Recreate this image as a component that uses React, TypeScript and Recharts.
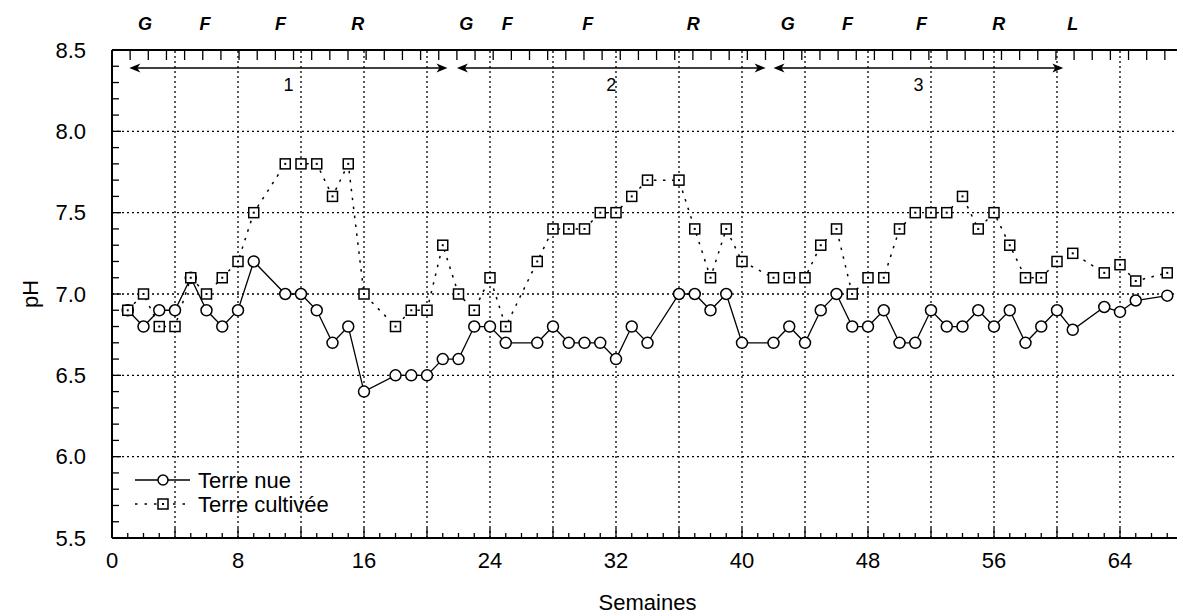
import React from 'react';
import {
  LineChart,
  Line,
  XAxis,
  YAxis,
  ReferenceLine,
  ReferenceDot,
  Legend,
} from 'recharts';

// weeks where a measure exists (some weeks were skipped)
const weeks = [1, 2, 3, 4, 5, 6, 7, 8, 9, 11, 12, 13, 14, 15, 16, 18, 19, 20, 21, 22, 23, 24, 25, 27, 28, 29, 30, 31, 32, 33, 34, 36, 37, 38, 39, 40, 42, 43, 44, 45, 46, 47, 48, 49, 50, 51, 52, 53, 54, 55, 56, 57, 58, 59, 60, 61, 63, 64, 65, 67];

const terreNue = [6.9, 6.8, 6.9, 6.9, 7.1, 6.9, 6.8, 6.9, 7.2, 7.0, 7.0, 6.9, 6.7, 6.8, 6.4, 6.5, 6.5, 6.5, 6.6, 6.6, 6.8, 6.8, 6.7, 6.7, 6.8, 6.7, 6.7, 6.7, 6.6, 6.8, 6.7, 7.0, 7.0, 6.9, 7.0, 6.7, 6.7, 6.8, 6.7, 6.9, 7.0, 6.8, 6.8, 6.9, 6.7, 6.7, 6.9, 6.8, 6.8, 6.9, 6.8, 6.9, 6.7, 6.8, 6.9, 6.78, 6.92, 6.89, 6.96, 6.99];

const terreCultivee = [6.9, 7.0, 6.8, 6.8, 7.1, 7.0, 7.1, 7.2, 7.5, 7.8, 7.8, 7.8, 7.6, 7.8, 7.0, 6.8, 6.9, 6.9, 7.3, 7.0, 6.9, 7.1, 6.8, 7.2, 7.4, 7.4, 7.4, 7.5, 7.5, 7.6, 7.7, 7.7, 7.4, 7.1, 7.4, 7.2, 7.1, 7.1, 7.1, 7.3, 7.4, 7.0, 7.1, 7.1, 7.4, 7.5, 7.5, 7.5, 7.6, 7.4, 7.5, 7.3, 7.1, 7.1, 7.2, 7.25, 7.13, 7.18, 7.08, 7.13];

// crop stages written above the plot
const stageLetters = ['G', 'F', 'F', 'R', 'G', 'F', 'F', 'R', 'G', 'F', 'F', 'R', 'L'];
const stageWeeks = [2.1, 5.9, 10.7, 15.6, 22.5, 25.1, 30.2, 36.9, 42.9, 46.7, 51.4, 56.3, 61.0];

// cycles (double arrows)
const cycleLabels = ['1', '2', '3'];
const cycleStart = [1.1, 21.9, 42.0];
const cycleEnd = [21.3, 41.5, 60.4];
const cycleLabelWeeks = [11.2, 31.7, 51.2];

const xTicks = Array.from({ length: 69 }, (_, i) => i);
const yTicks = Array.from({ length: 31 }, (_, i) => Math.round((5.5 + i * 0.1) * 10) / 10);
const gridX = [4, 8, 12, 16, 20, 24, 28, 32, 36, 40, 44, 48, 52, 56, 60, 64];
const gridY = [6.0, 6.5, 7.0, 7.5, 8.0];

const data = weeks.map((w, i) => ({ week: w, nue: terreNue[i], cult: terreCultivee[i] }));

const FONT = '"Liberation Sans", Arial, sans-serif';

const BottomTick = (props: any) => {
  const { x, y, payload } = props;
  const v = payload.value;
  const len = v % 4 === 0 ? 10 : 5;
  return (
    <g>
      <line x1={x} y1={y} x2={x} y2={y - len} stroke="#000" strokeWidth={1.3} />
      {v % 8 === 0 && (
        <text x={x} y={y + 22} textAnchor="middle" dominantBaseline="central" fontSize={22} fontFamily={FONT} fill="#000">
          {v}
        </text>
      )}
    </g>
  );
};

const TopTick = (props: any) => {
  const { x, y } = props;
  return <line x1={x} y1={y} x2={x} y2={y + 10} stroke="#000" strokeWidth={1.3} />;
};

const LeftTick = (props: any) => {
  const { x, y, payload } = props;
  const v = payload.value;
  const major = Math.abs(v * 2 - Math.round(v * 2)) < 1e-6;
  return (
    <g>
      <line x1={x} y1={y} x2={x + (major ? 9 : 7)} y2={y} stroke="#000" strokeWidth={1.3} />
      {major && (
        <text x={x - 26} y={y} textAnchor="end" dominantBaseline="central" fontSize={22} fontFamily={FONT} fill="#000">
          {v.toFixed(1)}
        </text>
      )}
    </g>
  );
};

const CircleDot = (props: any) => {
  const { cx, cy, index } = props;
  return <circle key={`n${index}`} cx={cx} cy={cy} r={5.5} fill="#fff" stroke="#000" strokeWidth={1.5} />;
};

const SquareDot = (props: any) => {
  const { cx, cy, index } = props;
  return (
    <g key={`c${index}`}>
      <rect x={cx - 5} y={cy - 5} width={10} height={10} fill="#fff" stroke="#000" strokeWidth={1.5} />
      <rect x={cx - 1} y={cy - 1} width={2} height={2} fill="#000" />
    </g>
  );
};

const DoubleArrow = (props: any) => {
  const { x1, y1, x2, y2 } = props;
  const h = 4.5;
  const L = 11;
  return (
    <g>
      <line x1={x1 + 3} y1={y1} x2={x2 - 3} y2={y2} stroke="#000" strokeWidth={1.5} />
      <path d={`M${x1},${y1} L${x1 + L},${y1 - h} L${x1 + L - 3},${y1} L${x1 + L},${y1 + h} Z`} fill="#000" />
      <path d={`M${x2},${y2} L${x2 - L},${y2 - h} L${x2 - L + 3},${y2} L${x2 - L},${y2 + h} Z`} fill="#000" />
    </g>
  );
};

const LegendBox = () => (
  <svg width={260} height={50} style={{ display: 'block' }}>
    <line x1={0} y1={12} x2={55} y2={12} stroke="#000" strokeWidth={1.3} />
    <circle cx={28} cy={12} r={5} fill="#fff" stroke="#000" strokeWidth={1.5} />
    <text x={63} y={12} dominantBaseline="central" fontSize={22} fontFamily={FONT} fill="#000">
      Terre nue
    </text>
    <line x1={0} y1={36} x2={55} y2={36} stroke="#000" strokeWidth={1.5} strokeDasharray="2.5 7" />
    <rect x={23} y={31} width={10} height={10} fill="#fff" stroke="#000" strokeWidth={1.5} />
    <rect x={27} y={35} width={2} height={2} fill="#000" />
    <text x={63} y={36} dominantBaseline="central" fontSize={22} fontFamily={FONT} fill="#000">
      Terre cultivée
    </text>
  </svg>
);

export default function App() {
  return (
    <div
      style={{
        position: 'fixed',
        left: 0,
        top: 0,
        width: 1177,
        height: 615,
        overflow: 'hidden',
        background: '#fff',
        fontFamily: FONT,
      }}
    >
      <LineChart width={1200} height={615} data={data} margin={{ top: 0, right: 17, bottom: 0, left: 0 }}>
        <XAxis
          xAxisId="top"
          orientation="top"
          type="number"
          domain={[0, 68]}
          ticks={xTicks}
          interval={0}
          height={50}
          tickSize={0}
          tickMargin={0}
          tick={<TopTick />}
          axisLine={{ stroke: '#000', strokeWidth: 2 }}
          allowDataOverflow
        />
        <XAxis
          dataKey="week"
          type="number"
          domain={[0, 68]}
          ticks={xTicks}
          interval={0}
          height={77}
          tickSize={0}
          tickMargin={0}
          tick={<BottomTick />}
          axisLine={{ stroke: '#000', strokeWidth: 2 }}
          allowDataOverflow
          label={{
            content: (p: any) => (
              <text
                x={p.viewBox.x + p.viewBox.width / 2}
                y={p.viewBox.y + 64}
                textAnchor="middle"
                dominantBaseline="central"
                fontSize={22}
                fontFamily={FONT}
                fill="#000"
              >
                Semaines
              </text>
            ),
          }}
        />
        <YAxis
          type="number"
          domain={[5.5, 8.5]}
          ticks={yTicks}
          interval={0}
          width={112}
          tickSize={0}
          tickMargin={0}
          tick={<LeftTick />}
          axisLine={{ stroke: '#000', strokeWidth: 2 }}
          allowDataOverflow
          label={{
            content: (p: any) => {
              const cx = p.viewBox.x + 30;
              const cy = p.viewBox.y + p.viewBox.height / 2;
              return (
                <text
                  x={cx}
                  y={cy}
                  transform={`rotate(-90 ${cx} ${cy})`}
                  textAnchor="middle"
                  dominantBaseline="central"
                  fontSize={22}
                  fontFamily={FONT}
                  fill="#000"
                >
                  pH
                </text>
              );
            },
          }}
        />

        {gridX.map((g) => (
          <ReferenceLine key={`gx${g}`} x={g} stroke="#000" strokeWidth={1.3} strokeDasharray="2 3" />
        ))}
        {gridY.map((g) => (
          <ReferenceLine key={`gy${g}`} y={g} stroke="#000" strokeWidth={1.3} strokeDasharray="2 3" />
        ))}

        {cycleLabels.map((c, i) => (
          <ReferenceLine
            key={`arr${c}`}
            segment={[
              { x: cycleStart[i], y: 8.39 },
              { x: cycleEnd[i], y: 8.39 },
            ]}
            ifOverflow="visible"
            shape={<DoubleArrow />}
          />
        ))}
        {cycleLabels.map((c, i) => (
          <ReferenceDot
            key={`cl${c}`}
            x={cycleLabelWeeks[i]}
            y={8.285}
            r={0}
            ifOverflow="visible"
            shape={(p: any) => (
              <text x={p.cx} y={p.cy} textAnchor="middle" dominantBaseline="central" fontSize={18} fontFamily={FONT} fill="#000">
                {c}
              </text>
            )}
          />
        ))}
        {stageLetters.map((s, i) => (
          <ReferenceDot
            key={`st${i}`}
            x={stageWeeks[i]}
            y={8.66}
            r={0}
            ifOverflow="visible"
            shape={(p: any) => (
              <text
                x={p.cx}
                y={p.cy}
                textAnchor="middle"
                dominantBaseline="central"
                fontSize={18}
                fontWeight="bold"
                fontStyle="italic"
                fontFamily={FONT}
                fill="#000"
              >
                {s}
              </text>
            )}
          />
        ))}

        <Line
          type="linear"
          dataKey="nue"
          name="Terre nue"
          stroke="#000"
          strokeWidth={1.3}
          dot={CircleDot}
          activeDot={false}
          isAnimationActive={false}
        />
        <Line
          type="linear"
          dataKey="cult"
          name="Terre cultivée"
          stroke="#000"
          strokeWidth={1.5}
          strokeDasharray="2.5 6.5"
          dot={SquareDot}
          activeDot={false}
          isAnimationActive={false}
        />
        <Legend
          layout="vertical"
          align="center"
          verticalAlign="middle"
          content={() => <LegendBox />}
          wrapperStyle={{ position: 'absolute', left: 135, top: 468, width: 260 }}
        />
      </LineChart>
    </div>
  );
}
